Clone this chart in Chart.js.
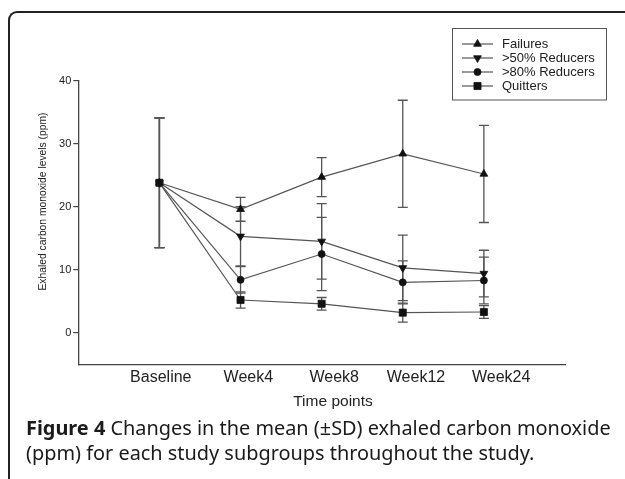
<!DOCTYPE html>
<html>
<head>
<meta charset="utf-8">
<script src="https://cdn.jsdelivr.net/npm/chart.js@4"></script>
<style>
    html, body { margin: 0; padding: 0; background: #fff; }
    #wrap { position: relative; width: 625px; height: 479px; overflow: hidden; background: #fff; }
    #frame {
        position: absolute; left: 8px; top: 11px; width: 700px; height: 600px;
        border-top: 2px solid #222; border-left: 2px solid #222;
        border-top-left-radius: 9px;
    }
    #coChart { position: absolute; left: 0; top: 0; }
    #caption {
        position: absolute; left: 26px; top: 415px;
        font-family: "Noto Sans", sans-serif; font-size: 19.9px; line-height: 25px;
        color: #1a1a1a; white-space: nowrap;
    }
</style>
</head>
<body>
<div id="wrap">
    <div id="frame"></div>
    <canvas id="coChart" width="625" height="479"></canvas>
    <div id="caption"><b>Figure 4</b> Changes in the mean (±SD) exhaled carbon monoxide<br>(ppm) for each study subgroups throughout the study.</div>
</div>
<script>
const categories = ['Baseline', 'Week4', 'Week8', 'Week12', 'Week24'];

const failures     = [23.8, 19.6, 24.7, 28.4, 25.2];
const failuresSD   = [10.3, 1.9, 3.1, 8.5, 7.7];
const reducers50   = [23.8, 15.3, 14.5, 10.3, 9.4];
const reducers50SD = [10.3, 4.7, 6.0, 5.2, 3.7];
const reducers80   = [23.8, 8.4, 12.5, 8.0, 8.3];
const reducers80SD = [10.3, 2.1, 5.8, 3.4, 3.7];
const quitters     = [23.8, 5.2, 4.6, 3.2, 3.3];
const quittersSD   = [10.3, 1.3, 1.0, 1.5, 1.0];

const yTicks = [0, 10, 20, 30, 40];

// where the prism export put the category labels (slightly drifting right)
const labelSlots = [1.017, 2.096, 3.155, 4.163, 5.213];

const axisColor = '#444';
const lineColor = '#555';
const markColor = '#111';

function series(label, values, sd, style, radius, rotation) {
    return {
        label,
        data: values.map((v, i) => ({ x: i + 1, y: v })),
        sd,
        borderColor: lineColor,
        borderWidth: 1.2,
        pointStyle: style,
        pointRadius: radius,
        pointRotation: rotation,
        pointBackgroundColor: markColor,
        pointBorderColor: markColor,
        pointBorderWidth: 0.8,
        tension: 0
    };
}

const errorBars = {
    id: 'errorBars',
    beforeDatasetsDraw(chart) {
        const { ctx } = chart;
        const y = chart.scales.y;
        ctx.save();
        ctx.strokeStyle = lineColor;
        ctx.lineWidth = 1.3;
        chart.data.datasets.forEach((ds, i) => {
            chart.getDatasetMeta(i).data.forEach((pt, j) => {
                const v = ds.data[j].y;
                const top = y.getPixelForValue(v + ds.sd[j]);
                const bot = y.getPixelForValue(v - ds.sd[j]);
                ctx.beginPath();
                ctx.moveTo(pt.x, top);
                ctx.lineTo(pt.x, bot);
                ctx.moveTo(pt.x - 5, top);
                ctx.lineTo(pt.x + 5, top);
                ctx.moveTo(pt.x - 5, bot);
                ctx.lineTo(pt.x + 5, bot);
                ctx.stroke();
            });
        });
        ctx.restore();
    }
};

const extras = {
    id: 'extras',
    afterDraw(chart) {
        const { ctx } = chart;
        ctx.save();

        // axis titles
        ctx.fillStyle = '#222';
        ctx.textAlign = 'center';
        ctx.textBaseline = 'middle';
        ctx.font = '15.5px "Liberation Sans", Arial, sans-serif';
        ctx.fillText('Time points', 333, 402);

        ctx.save();
        ctx.translate(43, 201.5);
        ctx.rotate(-Math.PI / 2);
        ctx.font = '10.3px "Liberation Sans", Arial, sans-serif';
        ctx.fillText('Exhaled carbon monoxide levels (ppm)', 0, 0);
        ctx.restore();

        // boxed legend, line with marker through it
        ctx.strokeStyle = lineColor;
        ctx.lineWidth = 1;
        ctx.strokeRect(452.5, 28.5, 154, 71.5);

        ctx.font = '13px "Liberation Sans", Arial, sans-serif';
        ctx.textAlign = 'left';
        chart.data.datasets.forEach((ds, i) => {
            const ly = 44 + i * 14;
            ctx.strokeStyle = lineColor;
            ctx.lineWidth = 1.2;
            ctx.beginPath();
            ctx.moveTo(462, ly);
            ctx.lineTo(493, ly);
            ctx.stroke();

            ctx.fillStyle = markColor;
            ctx.strokeStyle = markColor;
            ctx.lineWidth = ds.pointBorderWidth;
            Chart.helpers.drawPoint(ctx, {
                pointStyle: ds.pointStyle,
                radius: ds.pointRadius,
                rotation: ds.pointRotation,
                borderWidth: ds.pointBorderWidth
            }, 477.5, ly);

            ctx.fillStyle = '#222';
            ctx.fillText(ds.label, 502, ly);
        });

        ctx.restore();
    }
};

new Chart(document.getElementById('coChart'), {
    type: 'line',
    data: {
        datasets: [
            series('Failures', failures, failuresSD, 'triangle', 4.5, 0),
            series('>50% Reducers', reducers50, reducers50SD, 'triangle', 4.5, 180),
            series('>80% Reducers', reducers80, reducers80SD, 'circle', 3.5, 0),
            series('Quitters', quitters, quittersSD, 'rect', 5, 0)
        ]
    },
    options: {
        responsive: false,
        devicePixelRatio: 1,
        animation: false,
        layout: {
            padding: { top: 80.7, right: 60, bottom: 84.7, left: 0 }
        },
        plugins: {
            legend: { display: false },
            tooltip: { enabled: false }
        },
        scales: {
            x: {
                type: 'linear',
                min: 0,
                max: 6,
                afterFit(scale) { scale.height = 30; },
                afterBuildTicks(scale) {
                    scale.ticks = labelSlots.map(v => ({ value: v }));
                },
                grid: { display: false, drawTicks: false },
                border: { display: true, color: axisColor, width: 1.3 },
                ticks: {
                    padding: 4,
                    color: '#222',
                    maxRotation: 0,
                    autoSkip: false,
                    font: { family: '"Liberation Sans", Arial, sans-serif', size: 16 },
                    callback: (v, i) => categories[i]
                }
            },
            y: {
                min: -5,
                max: 40,
                afterFit(scale) { scale.width = 78.3; },
                afterBuildTicks(scale) {
                    scale.ticks = yTicks.map(v => ({ value: v }));
                },
                grid: {
                    display: true,
                    drawOnChartArea: false,
                    drawTicks: true,
                    tickLength: 5,
                    color: axisColor,
                    lineWidth: 1.2
                },
                border: { display: true, color: axisColor, width: 1.3 },
                ticks: {
                    padding: 2,
                    color: '#222',
                    font: { family: '"Liberation Sans", Arial, sans-serif', size: 11 }
                }
            }
        }
    },
    plugins: [errorBars, extras]
});
</script>
</body>
</html>
